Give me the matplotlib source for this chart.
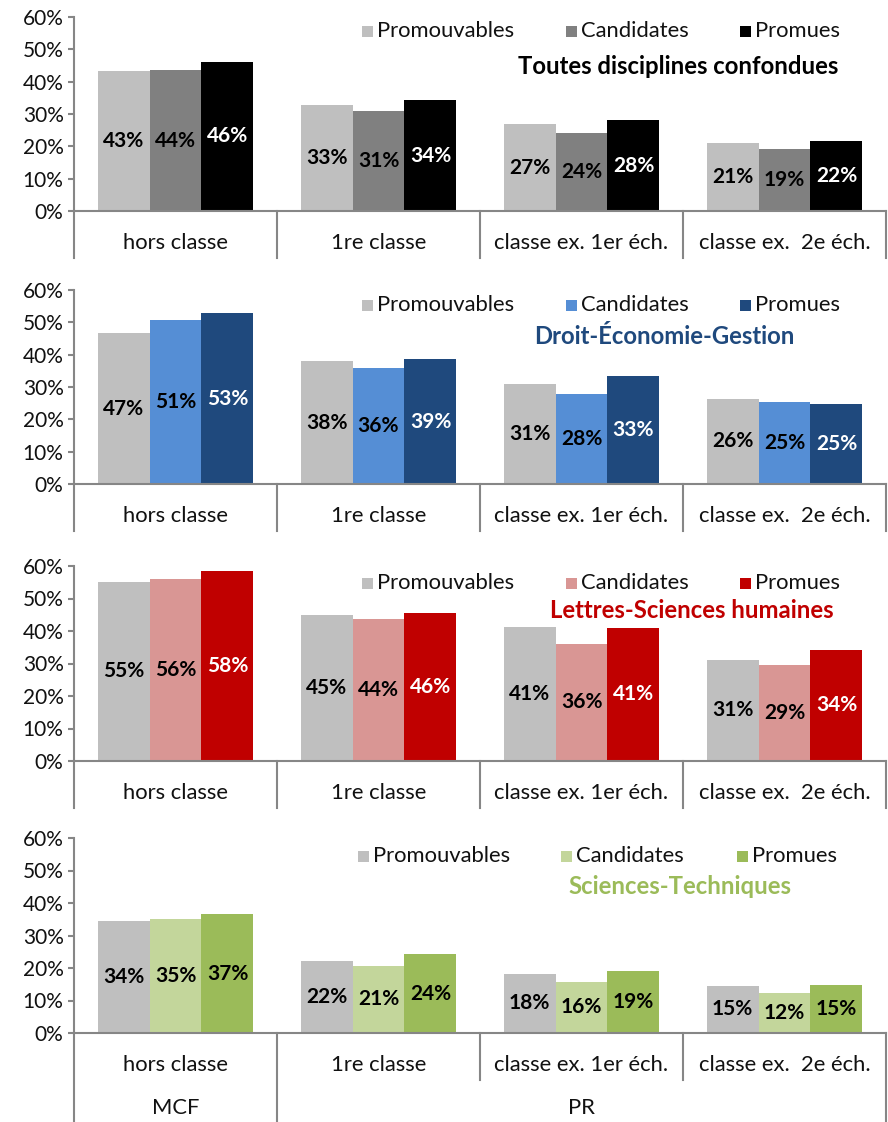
import matplotlib
matplotlib.use("Agg")
import matplotlib.pyplot as plt
from matplotlib.patches import Rectangle
from matplotlib.lines import Line2D

plt.rcParams['font.family'] = ['Lato', 'DejaVu Sans']

W, H = 888, 1122

categories = ["hors classe", "1re classe", "classe ex. 1er éch.", "classe ex.  2e éch."]
series = ["Promouvables", "Candidates", "Promues"]
corps_labels = ["MCF", "PR"]

titles = ["Toutes disciplines confondues", "Droit-Économie-Gestion",
          "Lettres-Sciences humaines", "Sciences-Techniques"]

# values in % : [Promouvables, Candidates, Promues] per category
toutes_promouvables = [43.3, 32.7, 26.9, 20.9]
toutes_candidates = [43.6, 30.9, 24.1, 19.3]
toutes_promues = [46.1, 34.2, 28.1, 21.7]

deg_promouvables = [46.6, 37.9, 30.9, 26.4]
deg_candidates = [50.6, 35.8, 27.9, 25.3]
deg_promues = [52.8, 38.6, 33.3, 24.6]

lsh_promouvables = [55.1, 44.8, 41.2, 31.2]
lsh_candidates = [56.0, 43.6, 36.1, 29.4]
lsh_promues = [58.4, 45.5, 41.0, 34.3]

st_promouvables = [34.4, 22.1, 18.2, 14.6]
st_candidates = [35.0, 20.7, 15.7, 12.3]
st_promues = [36.6, 24.2, 19.2, 14.7]

panel_data = [
    [toutes_promouvables, toutes_candidates, toutes_promues],
    [deg_promouvables, deg_candidates, deg_promues],
    [lsh_promouvables, lsh_candidates, lsh_promues],
    [st_promouvables, st_candidates, st_promues],
]

panel_colors = [
    ["#BFBFBF", "#808080", "#000000"],
    ["#BFBFBF", "#558ED5", "#1F497D"],
    ["#BFBFBF", "#D99694", "#C00000"],
    ["#BFBFBF", "#C3D69B", "#9BBB59"],
]
label_colors = [
    ["black", "black", "white"],
    ["black", "black", "white"],
    ["black", "black", "white"],
    ["black", "black", "black"],
]
title_colors = ["black", "#1F497D", "#C00000", "#9BBB59"]

# layout in pixels: (y of 60%, y of 0%)
panels_px = [(17, 211), (290, 484), (566, 761), (838, 1033)]
legend_y = [31, 305, 583, 856]
title_y = [67, 337, 611, 887]
title_x = [678, 664, 692, 680]
legend_x = [[362, 566, 740], [362, 566, 740], [362, 566, 740], [358, 561, 737]]

x_left, x_right = 74, 886
axis_col = "#868686"
txt_col = "#111111"
lw = 1.5
bw = 0.256
fs_tick = 15
fs_cat = 15.8
fs_leg = 15.8
fs_val = 15
fs_title = 17.2

fig = plt.figure(figsize=(W / 100, H / 100), dpi=100)


def fx(px):
    return px / W


def fy(py):
    return 1 - py / H


for p in range(4):
    ytop, ybot = panels_px[p]
    ax = fig.add_axes([fx(x_left), fy(ybot), fx(x_right - x_left), (ybot - ytop) / H])
    vals = panel_data[p]
    for s in range(3):
        xs = [i + (s - 1) * bw for i in range(4)]
        ax.bar(xs, vals[s], width=bw, color=panel_colors[p][s], linewidth=0, zorder=2)
        for xx, v in zip(xs, vals[s]):
            ax.text(xx, v / 2, f"{v:.0f}%", ha="center", va="center", fontsize=fs_val,
                    fontweight="bold", color=label_colors[p][s], zorder=3)
    ax.set_xlim(-0.5, 3.5)
    ax.set_ylim(0, 60)
    ax.set_yticks(range(0, 61, 10))
    ax.set_yticklabels([f"{v}%" for v in range(0, 61, 10)], fontsize=fs_tick, color=txt_col)
    ax.tick_params(axis="y", length=4.5, width=lw, color=axis_col, direction="out", pad=3)
    ax.set_xticks([])
    for sp in ["top", "right"]:
        ax.spines[sp].set_visible(False)
    ax.spines["left"].set_color(axis_col)
    ax.spines["left"].set_linewidth(lw)
    ax.spines["bottom"].set_color(axis_col)
    ax.spines["bottom"].set_linewidth(lw)
    ax.patch.set_alpha(0)

    # category axis area
    ppd = (ybot - ytop) / 60.0  # pixels per unit
    row_h = 47 / ppd
    for i, c in enumerate(categories):
        ax.text(i, -32 / ppd, c, ha="center", va="center", fontsize=fs_cat, color=txt_col,
                clip_on=False)
    if p < 3:
        for xb in [-0.5, 0.5, 1.5, 2.5, 3.5]:
            ax.add_line(Line2D([xb, xb], [0, -row_h], color=axis_col, lw=lw, clip_on=False))
    else:
        bottom = -(H - ybot) / ppd
        for xb in [-0.5, 0.5, 3.5]:
            ax.add_line(Line2D([xb, xb], [0, bottom], color=axis_col, lw=lw, clip_on=False))
        for xb in [1.5, 2.5]:
            ax.add_line(Line2D([xb, xb], [0, -row_h], color=axis_col, lw=lw, clip_on=False))
        ax.text(0, -75 / ppd, corps_labels[0], ha="center", va="center", fontsize=fs_cat,
                color=txt_col, clip_on=False)
        ax.text(2, -75 / ppd, corps_labels[1], ha="center", va="center", fontsize=fs_cat,
                color=txt_col, clip_on=False)

    # legend
    for s in range(3):
        lx = legend_x[p][s]
        ly = legend_y[p]
        fig.patches.append(Rectangle((fx(lx), fy(ly + 5.5)), 11 / W, 11 / H,
                                     transform=fig.transFigure, facecolor=panel_colors[p][s],
                                     edgecolor="none"))
        fig.text(fx(lx + 15), fy(ly), series[s], ha="left", va="center", fontsize=fs_leg,
                 color=txt_col)
    # title
    fig.text(fx(title_x[p]), fy(title_y[p]), titles[p], ha="center", va="center",
             fontsize=fs_title, fontweight="bold", color=title_colors[p])

fig.savefig("out.png", dpi=100)
